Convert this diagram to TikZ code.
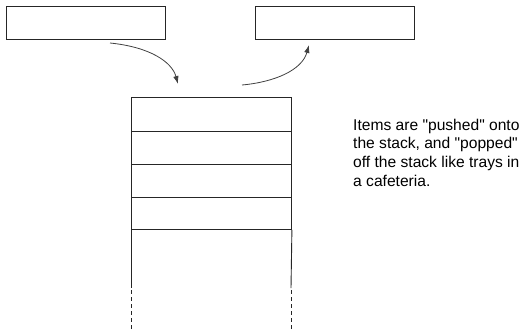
\documentclass[tikz,border=0pt]{standalone}
\usepackage{fontspec}
\setmainfont{Liberation Sans}
\usetikzlibrary{arrows.meta}
\begin{document}
\begin{tikzpicture}[x=1pt,y=-1pt,
  topbox/.style={draw=black!85,line width=0.9pt,minimum width=159pt,minimum height=33pt,inner sep=0pt,anchor=north west},
  cell/.style={draw=black!85,line width=0.9pt,minimum width=160pt,minimum height=33pt,inner sep=0pt,anchor=north west},
  flow/.style={draw=black!75,line width=0.8pt,-{Latex[length=8pt,width=5.5pt]}},
  side/.style={draw=black!85,line width=0.9pt},
  sidedash/.style={draw=black!85,line width=0.9pt,dash pattern=on 4pt off 3pt}]
\useasboundingbox (0,0) rectangle (526,329);
\node[topbox] (src) at (6,6) {};
\node[topbox] (dst) at (255,6) {};
\node[cell,minimum height=34pt] (c1) at (131,97) {};
\node[cell] (c2) at (131,131) {};
\node[cell] (c3) at (131,164) {};
\node[cell,minimum height=32pt] (c4) at (131,197) {};
\coordinate (ls) at (131,288);
\coordinate (rs) at (291,288);
\coordinate (lb) at (131,329);
\coordinate (rb) at (291,329);
\draw[side] (c4.south west) -- (ls);
\draw[side] (c4.south east) -- (rs);
\draw[sidedash] ([yshift=-2pt]ls) -- (lb);
\draw[sidedash] ([yshift=-2pt]rs) -- (rb);
\coordinate (p1) at (110,43);
\coordinate (p2) at (178,84);
\coordinate (q1) at (242,85);
\coordinate (q2) at (309,45);
\draw[flow] (p1) .. controls (150,47) and (172,62) .. (p2);
\draw[flow] (q1) .. controls (275,82) and (302,70) .. (q2);
\node[anchor=base west,align=left,inner sep=0pt,font=\fontsize{15.6}{18.6}\selectfont] (note) at (353,186)
{Items are \textquotedbl pushed\textquotedbl{} onto\\the stack, and \textquotedbl popped\textquotedbl\\off the stack like trays in\\a cafeteria.};
\end{tikzpicture}
\end{document}
